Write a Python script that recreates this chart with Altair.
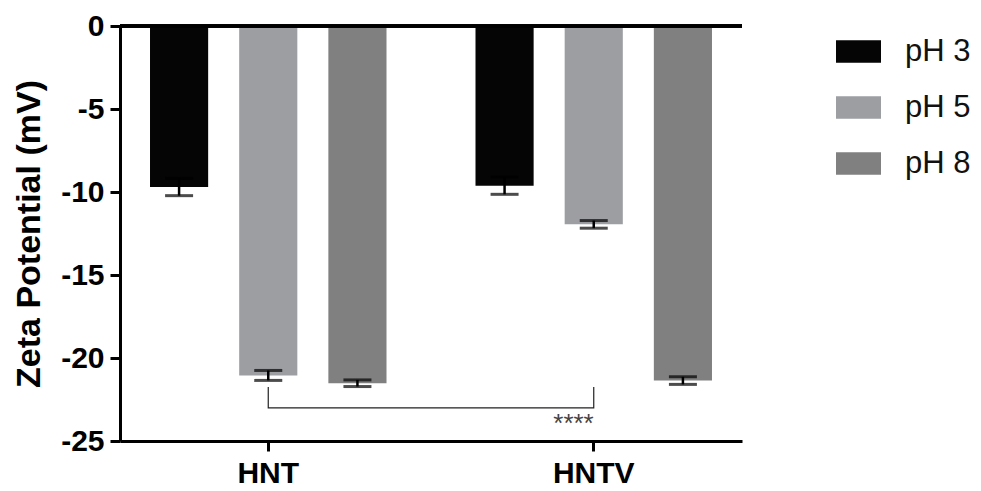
import altair as alt
import pandas as pd

groups = ["HNT", "HNT", "HNT", "HNTV", "HNTV", "HNTV"]
phs = ["pH 3", "pH 5", "pH 8", "pH 3", "pH 5", "pH 8"]
means = [-9.70, -21.05, -21.52, -9.62, -11.95, -21.36]
errs = [0.52, 0.30, 0.20, 0.52, 0.23, 0.23]

ph_levels = ["pH 3", "pH 5", "pH 8"]
ph_colors = ["#050505", "#9d9ea2", "#808080"]
y_ticks = [0, -5, -10, -15, -20, -25]

bracket_x = ["HNT", "HNT", "HNTV", "HNTV"]
bracket_y = [-21.75, -23.0, -23.0, -21.75]
bracket_order = [0, 1, 2, 3]
stars_label = ["****"]
stars_x = ["HNTV"]
stars_y = [-23.0]

df = pd.DataFrame({"group": groups, "ph": phs, "mean": means, "err": errs})
df["lo"] = df["mean"] - df["err"]
df["hi"] = df["mean"] + df["err"]
br = pd.DataFrame({"group": bracket_x, "y": bracket_y, "o": bracket_order})
st = pd.DataFrame({"group": stars_x, "y": stars_y, "t": stars_label})

FONT = "Liberation Sans"

xscale = alt.Scale(domain=["HNT", "HNTV"], paddingInner=0.2, paddingOuter=0.0555)
offscale = alt.Scale(domain=ph_levels, paddingInner=0.348, paddingOuter=0.134)
yscale = alt.Scale(domain=[-25, 0], nice=False, zero=False)

x_enc = alt.X("group:N", scale=xscale, title=None,
              axis=alt.Axis(labelAngle=0, labelFont=FONT, labelFontSize=30, labelFontWeight="bold",
                            labelColor="black", domainColor="black", domainWidth=3,
                            tickColor="black", tickWidth=3, tickSize=10, labelPadding=7, grid=False))
y_enc_axis = alt.Axis(values=y_ticks, labelExpr="toString(datum.value)",
                      labelFont=FONT, labelFontSize=30, labelFontWeight="bold",
                      labelColor="black", domainColor="black", domainWidth=3, tickColor="black",
                      tickWidth=3, tickSize=10, labelPadding=6, grid=False,
                      titleFont=FONT, titleFontSize=34, titleFontWeight="bold", titleColor="black",
                      titlePadding=14)

base = alt.Chart(df)

bars = base.mark_bar().encode(
    x=x_enc,
    xOffset=alt.XOffset("ph:N", scale=offscale),
    y=alt.Y("mean:Q", scale=yscale, axis=y_enc_axis, title="Zeta Potential (mV)"),
    y2=alt.datum(0),
    color=alt.Color("ph:N", scale=alt.Scale(domain=ph_levels, range=ph_colors),
                    legend=alt.Legend(title=None, orient="none", legendX=716, legendY=3,
                                      symbolType="M-1,-0.5H1V0.5H-1Z", symbolSize=2025,
                                      symbolStrokeWidth=0, labelFont=FONT, labelFontSize=31,
                                      labelColor="#111111", labelOffset=24, rowPadding=18,
                                      symbolOpacity=1)),
)

stems = base.mark_rule(color="black", strokeWidth=2.5).encode(
    x=alt.X("group:N", scale=xscale),
    xOffset=alt.XOffset("ph:N", scale=offscale),
    y=alt.Y("lo:Q", scale=yscale),
    y2="hi:Q",
)
caps_lo = base.mark_tick(color="black", thickness=3, size=28).encode(
    x=alt.X("group:N", scale=xscale),
    xOffset=alt.XOffset("ph:N", scale=offscale),
    y=alt.Y("lo:Q", scale=yscale),
)
caps_hi = base.mark_tick(color="black", thickness=3, size=28).encode(
    x=alt.X("group:N", scale=xscale),
    xOffset=alt.XOffset("ph:N", scale=offscale),
    y=alt.Y("hi:Q", scale=yscale),
)

top_line = alt.Chart(df).mark_rule(color="black", strokeWidth=3).encode(y=alt.datum(0))

bracket = alt.Chart(br).mark_line(color="#222222", strokeWidth=1.2).encode(
    x=alt.X("group:N", scale=xscale),
    y=alt.Y("y:Q", scale=yscale),
    order="o:Q",
)
stars = alt.Chart(st).mark_text(align="right", baseline="alphabetic", fontSize=26, dy=24,
                                color="#444444", font=FONT).encode(
    x=alt.X("group:N", scale=xscale),
    y=alt.Y("y:Q", scale=yscale),
    text="t:N",
)

chart = alt.layer(bars, stems, caps_lo, caps_hi, top_line, bracket, stars).properties(
    width=622, height=415,
    background="white",
    autosize=alt.AutoSizeParams(type="none"),
    padding={"left": 120, "top": 26, "right": 239, "bottom": 50},
).configure_view(stroke="transparent", strokeWidth=0)

chart.save("out.html", embed_options={"renderer": "svg", "actions": False})
